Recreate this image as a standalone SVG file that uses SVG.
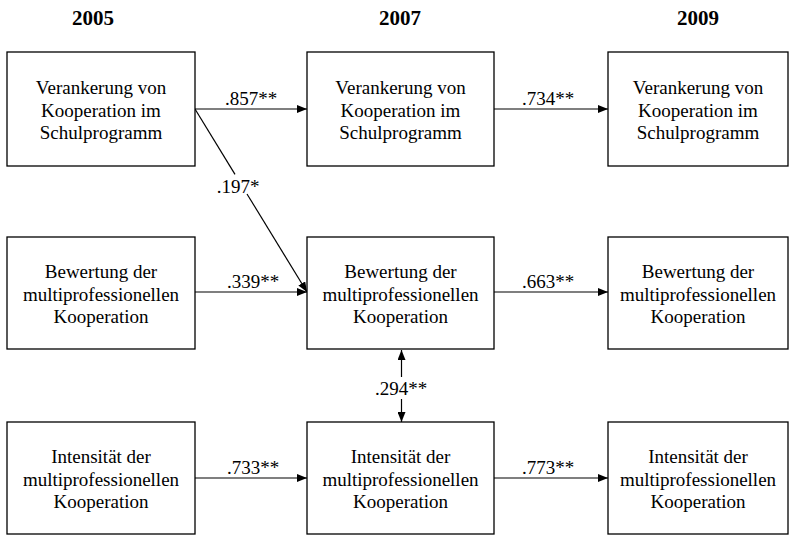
<svg xmlns="http://www.w3.org/2000/svg" width="790" height="535" viewBox="0 0 790 535">
<style>
  .box { fill: #fff; stroke: #000; stroke-width: 1.3; }
  .t { font-family: 'Liberation Serif', 'Times New Roman', Times, 'DejaVu Serif', serif; font-size: 19px; fill: #000; text-anchor: middle; }
  .h { font-family: 'Liberation Serif', 'Times New Roman', Times, 'DejaVu Serif', serif; font-size: 21px; font-weight: bold; fill: #000; text-anchor: middle; }
  .e { stroke: #000; stroke-width: 1.2; fill: none; }
</style>
<defs>
  <marker id="arr" viewBox="0 0 10 8" refX="10" refY="4" markerWidth="10" markerHeight="8" markerUnits="userSpaceOnUse" orient="auto-start-reverse">
    <path d="M0,0 L10,4 L0,8 z" fill="#000"/>
  </marker>
</defs>
<rect width="790" height="535" fill="#fff"/>
<g id="headers">
  <text class="h" x="93" y="25">2005</text>
  <text class="h" x="400" y="25">2007</text>
  <text class="h" x="698" y="25">2009</text>
</g>
<g id="connectors">
  <line class="e" x1="195" y1="109" x2="307" y2="109" marker-end="url(#arr)"/>
  <text class="t" x="251" y="105">.857**</text>
  <line class="e" x1="494" y1="109" x2="608" y2="109" marker-end="url(#arr)"/>
  <text class="t" x="548" y="105">.734**</text>
  <line class="e" x1="195" y1="109" x2="235" y2="174.4"/>
  <line class="e" x1="247" y1="194" x2="307" y2="292" marker-end="url(#arr)"/>
  <text class="t" x="238" y="193">.197*</text>
  <line class="e" x1="195" y1="292" x2="307" y2="292" marker-end="url(#arr)"/>
  <text class="t" x="253" y="288">.339**</text>
  <line class="e" x1="494" y1="292" x2="608" y2="292" marker-end="url(#arr)"/>
  <text class="t" x="548" y="288">.663**</text>
  <line class="e" x1="401.5" y1="377" x2="401.5" y2="350" marker-end="url(#arr)"/>
  <line class="e" x1="401.5" y1="399" x2="401.5" y2="422" marker-end="url(#arr)"/>
  <text class="t" x="401" y="395">.294**</text>
  <line class="e" x1="195" y1="478" x2="307" y2="478" marker-end="url(#arr)"/>
  <text class="t" x="253" y="474">.733**</text>
  <line class="e" x1="494" y1="478" x2="608" y2="478" marker-end="url(#arr)"/>
  <text class="t" x="548" y="474">.773**</text>
</g>
<g id="v2005">
  <rect class="box" x="7" y="52" width="188" height="114"/>
  <text class="t" x="101" y="94">Verankerung von</text>
  <text class="t" x="101" y="116.5">Kooperation im</text>
  <text class="t" x="101" y="139">Schulprogramm</text>
</g>
<g id="v2007">
  <rect class="box" x="307" y="52" width="187" height="114"/>
  <text class="t" x="400.5" y="94">Verankerung von</text>
  <text class="t" x="400.5" y="116.5">Kooperation im</text>
  <text class="t" x="400.5" y="139">Schulprogramm</text>
</g>
<g id="v2009">
  <rect class="box" x="608" y="52" width="180" height="114"/>
  <text class="t" x="698" y="94">Verankerung von</text>
  <text class="t" x="698" y="116.5">Kooperation im</text>
  <text class="t" x="698" y="139">Schulprogramm</text>
</g>
<g id="b2005">
  <rect class="box" x="7" y="237" width="188" height="112"/>
  <text class="t" x="101" y="278">Bewertung der</text>
  <text class="t" x="101" y="300.5">multiprofessionellen</text>
  <text class="t" x="101" y="323">Kooperation</text>
</g>
<g id="b2007">
  <rect class="box" x="307" y="237" width="187" height="112"/>
  <text class="t" x="400.5" y="278">Bewertung der</text>
  <text class="t" x="400.5" y="300.5">multiprofessionellen</text>
  <text class="t" x="400.5" y="323">Kooperation</text>
</g>
<g id="b2009">
  <rect class="box" x="608" y="237" width="180" height="112"/>
  <text class="t" x="698" y="278">Bewertung der</text>
  <text class="t" x="698" y="300.5">multiprofessionellen</text>
  <text class="t" x="698" y="323">Kooperation</text>
</g>
<g id="i2005">
  <rect class="box" x="7" y="422" width="188" height="112"/>
  <text class="t" x="101" y="463">Intensität der</text>
  <text class="t" x="101" y="485.5">multiprofessionellen</text>
  <text class="t" x="101" y="508">Kooperation</text>
</g>
<g id="i2007">
  <rect class="box" x="307" y="422" width="187" height="112"/>
  <text class="t" x="400.5" y="463">Intensität der</text>
  <text class="t" x="400.5" y="485.5">multiprofessionellen</text>
  <text class="t" x="400.5" y="508">Kooperation</text>
</g>
<g id="i2009">
  <rect class="box" x="608" y="422" width="180" height="112"/>
  <text class="t" x="698" y="463">Intensität der</text>
  <text class="t" x="698" y="485.5">multiprofessionellen</text>
  <text class="t" x="698" y="508">Kooperation</text>
</g>
</svg>
